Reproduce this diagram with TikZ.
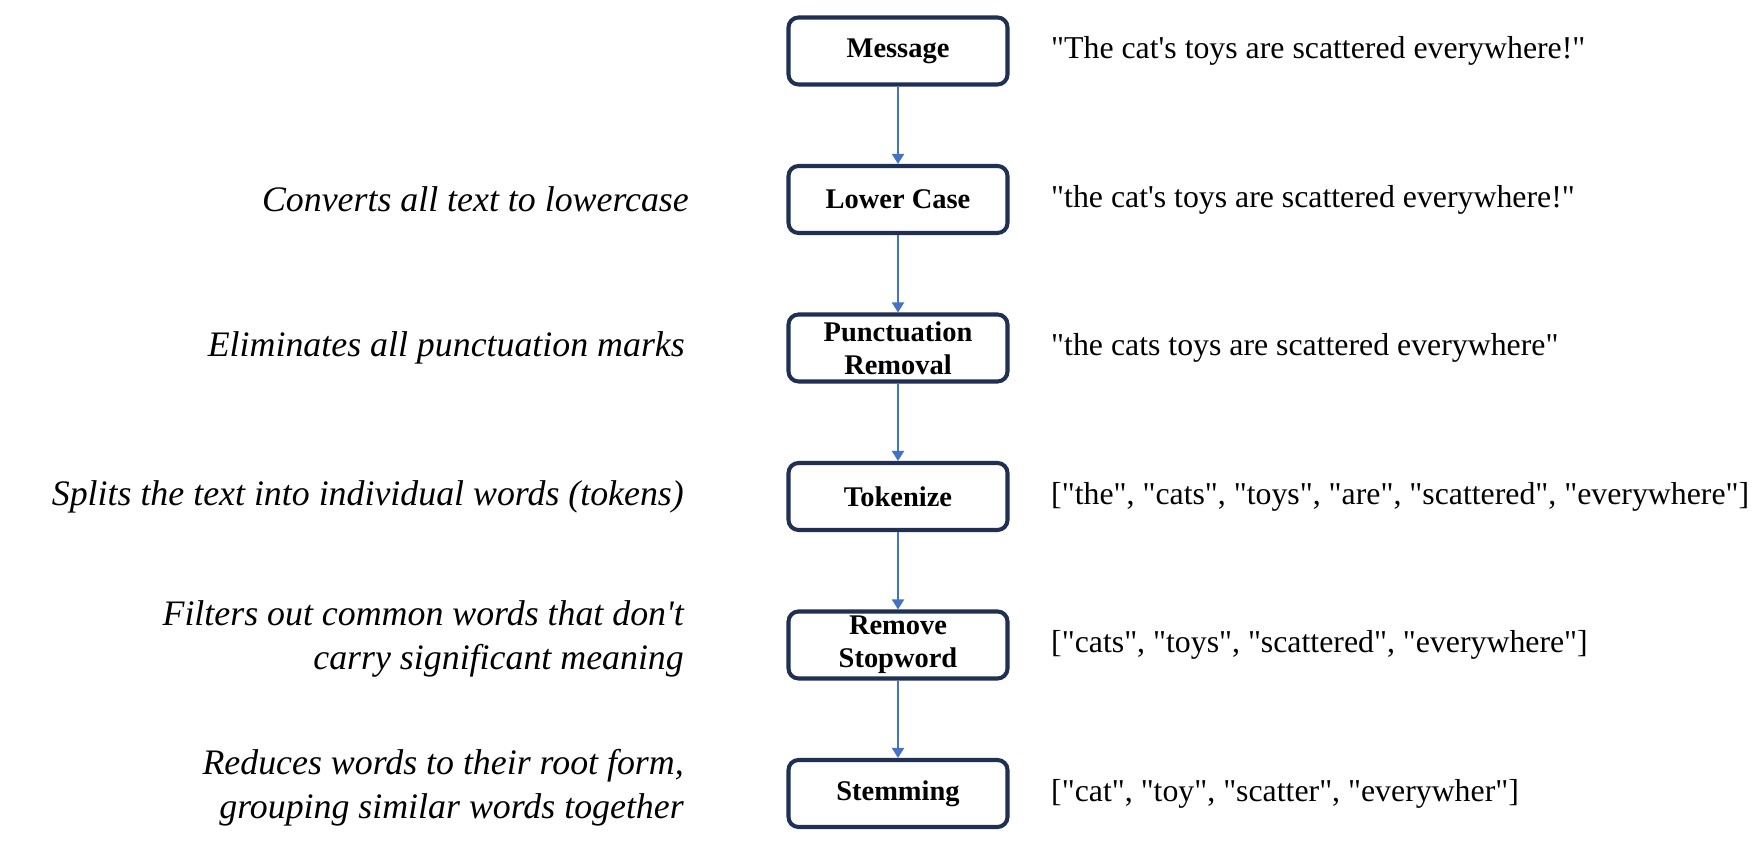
\documentclass[tikz,border=0pt]{standalone}
\usepackage{fontspec}
\setmainfont{Liberation Serif}
\usepackage{tikz}
\usetikzlibrary{arrows.meta}
\definecolor{boxnavy}{HTML}{1F3052}
\definecolor{arrowblue}{HTML}{4472C4}
\newcommand{\aps}{\textquotesingle}
\newcommand{\dq}{\textquotedbl}

\begin{document}
\begin{tikzpicture}[
  stage/.style={draw=boxnavy, line width=2.3pt, rounded corners=0.2cm,
    minimum width=4.38cm, minimum height=1.34cm, inner sep=0pt,
    align=center, font=\fontsize{16.2}{18.8}\selectfont\bfseries},
  note/.style={anchor=east, align=right, font=\fontsize{20.4}{25}\selectfont\itshape},
  sample/.style={anchor=west, font=\fontsize{18.1}{22}\selectfont},
  flow/.style={draw=arrowblue, line width=1.1pt, -{Triangle[width=0.24cm,length=0.2cm]}}
]
\useasboundingbox (0,0) rectangle (35.28,17.36);

\node [stage] (S1) at (17.96,16.34) {Message}; 
\node [stage] (S2) at (17.96,13.37) {Lower Case}; 
\node [stage] (S3) at (17.96,10.40) {Punctuation\\Removal}; 
\node [stage] (S4) at (17.96,7.43) {Tokenize}; 
\node [stage] (S5) at (17.96,4.46) {Remove\\Stopword}; 
\node [stage] (S6) at (17.96,1.49) {Stemming}; 


\node [note] (N2) at (13.9,13.37) {Converts all text to lowercase}; 
\node [note] (N3) at (13.82,10.40) {Eliminates all punctuation marks}; 
\node [note] (N4) at (13.8,7.43) {Splits the text into individual words (tokens)}; 
\node [note] (N5) at (13.8,4.58) {Filters out common words that don\aps t\\carry significant meaning}; 
\node [note] (N6) at (13.8,1.60) {Reduces words to their root form,\\grouping similar words together}; 


\node [sample] (T1) at (20.9,16.34) {\dq The cat\aps s toys are scattered everywhere!\dq}; 
\node [sample] (T2) at (20.9,13.37) {\dq the cat\aps s toys are scattered everywhere!\dq}; 
\node [sample] (T3) at (20.9,10.40) {\dq the cats toys are scattered everywhere\dq}; 
\node [sample] (T4) at (20.9,7.43) {[\dq the\dq, \dq cats\dq, \dq toys\dq, \dq are\dq, \dq scattered\dq, \dq everywhere\dq]}; 
\node [sample] (T5) at (20.9,4.46) {[\dq cats\dq, \dq toys\dq, \dq scattered\dq, \dq everywhere\dq]}; 
\node [sample] (T6) at (20.9,1.49) {[\dq cat\dq, \dq toy\dq, \dq scatter\dq, \dq everywher\dq]}; 

\foreach \s/\t in {S1/S2,
                   S2/S3,
                   S3/S4,
                   S4/S5,
                   S5/S6}
    \draw [flow] (\s) -- (\t);

\end{tikzpicture}
\end{document}
